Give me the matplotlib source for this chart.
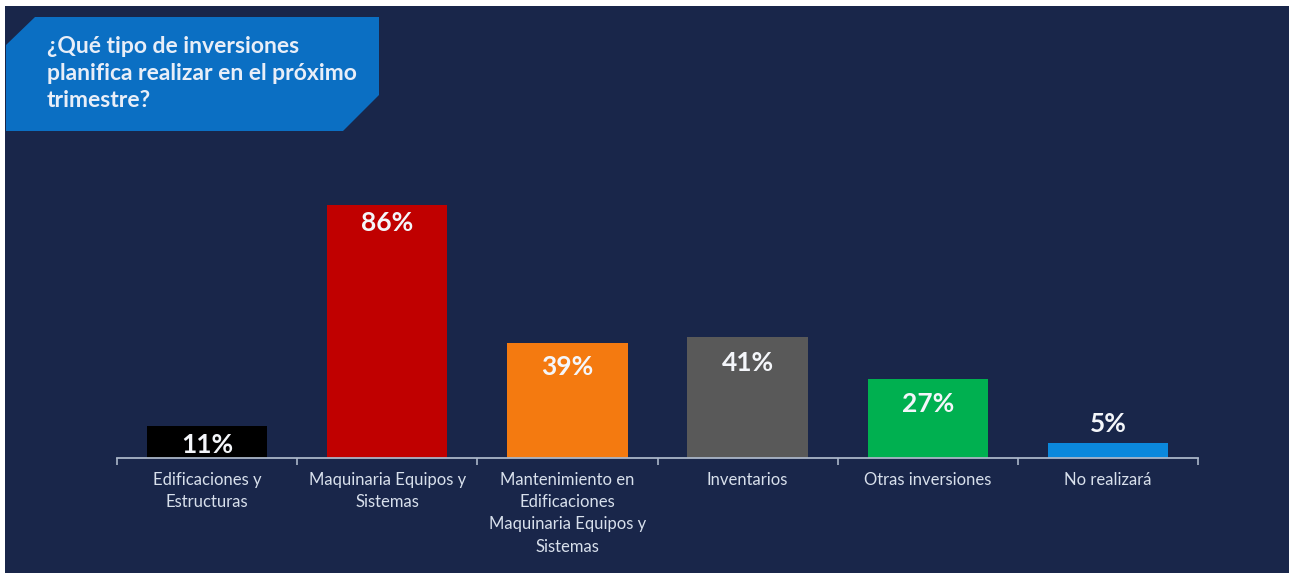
import matplotlib.pyplot as plt
from matplotlib.patches import Polygon, Rectangle
from matplotlib.ticker import FixedLocator

plt.rcParams['font.family'] = ['Lato', 'DejaVu Sans']

# data
categories = ['Edificaciones y\nEstructuras',
              'Maquinaria Equipos y\nSistemas',
              'Mantenimiento en\nEdificaciones\nMaquinaria Equipos y\nSistemas',
              'Inventarios',
              'Otras inversiones',
              'No realizará']
values = [11, 86, 39, 41, 27, 5]
bar_colors = ['#000000', '#c00000', '#f47a10', '#595959', '#00b050', '#0b88dc']
title = '¿Qué tipo de inversiones\nplanifica realizar en el próximo\ntrimestre?'

bg = '#19264a'
W, H = 1289, 573

fig = plt.figure(figsize=(W / 100, H / 100), dpi=100)
fig.patch.set_facecolor('white')

# dark panel (small white margin at top/left like the screenshot)
fig.patches.append(Rectangle((5 / W, 0), 1, 1 - 6 / H, transform=fig.transFigure,
                             facecolor=bg, edgecolor='none', zorder=-3))

# blue banner with cut corners
pts = [(6, 45), (35, 17), (379, 17), (379, 95), (343, 131), (6, 131)]
pts = [(x / W, 1 - y / H) for x, y in pts]
fig.patches.append(Polygon(pts, closed=True, transform=fig.transFigure,
                           facecolor='#0b6fc3', edgecolor='none', zorder=-2))
fig.text(47 / W, 1 - 36 / H, title, color='#e8eef8', fontsize=16.5,
         fontweight='bold', va='top', ha='left', linespacing=1.36, zorder=2)

ax = fig.add_axes([117 / W, 115 / H, 1081 / W, 294 / H])
ax.set_facecolor('none')
ax.set_zorder(1)

x = range(len(values))
bars = ax.bar(x, values, width=0.667, color=bar_colors, zorder=2)

ax.set_xlim(-0.5, len(values) - 0.5)
ax.set_ylim(0, 100)

for s in ['top', 'right', 'left']:
    ax.spines[s].set_visible(False)
ax.spines['bottom'].set_color('#aab6c8')
ax.spines['bottom'].set_linewidth(1.3)
ax.set_yticks([])

ax.set_xticks(list(x))
ax.set_xticklabels(categories, color='#d8e0ec', fontsize=12, linespacing=1.48, va='top')
ax.tick_params(axis='x', which='major', length=0, pad=10)
ax.xaxis.set_minor_locator(FixedLocator([i - 0.5 for i in range(len(values) + 1)]))
ax.tick_params(axis='x', which='minor', length=5, color='#aab6c8', width=1.2)

# value labels: inside top of bar, except the small one which sits above
offsets = [-19, -18, -24, -26, -25, 19]
for b, v, off in zip(bars, values, offsets):
    ax.annotate(f'{v}%', (b.get_x() + b.get_width() / 2, v),
                xytext=(0, off), textcoords='offset pixels',
                ha='center', va='center', color='#f4f6fa',
                fontsize=19, fontweight='bold', zorder=3)

fig.savefig('out.png', dpi=100, facecolor=fig.get_facecolor())
plt.close(fig)
